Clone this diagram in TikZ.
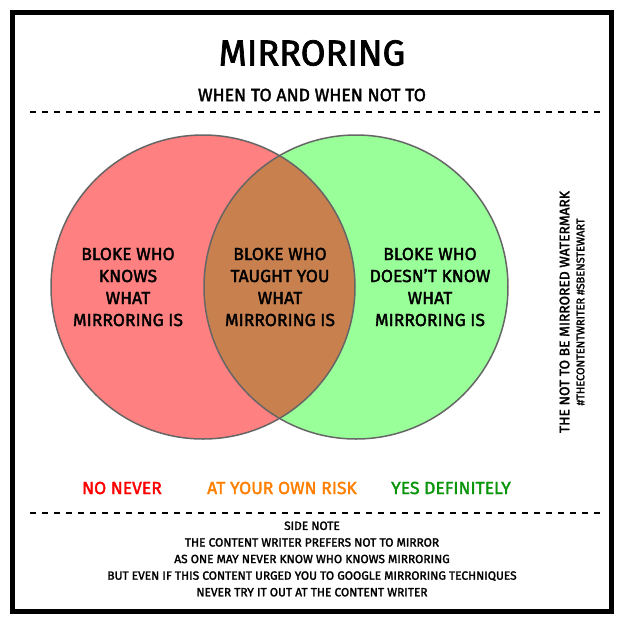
\documentclass[tikz,border=0pt]{standalone}
\usepackage{fontspec}
\setmainfont{Fira Sans}[FakeBold=2]
\begin{document}
\begin{tikzpicture}[x=1pt,y=-1pt,
  txt/.style={align=center,font=\fontsize{17.5}{22}\selectfont,inner sep=0pt},
  note/.style={align=center,font=\fontsize{11.9}{16.6}\selectfont,inner sep=0pt},
  verdict/.style={font=\fontsize{17.5}{19}\selectfont,inner sep=0pt},
  sep/.style={line width=1.3pt,dash pattern=on 6pt off 6pt}]
\useasboundingbox (0,0) rectangle (625,625);
\fill[white] (0,0) rectangle (625,625);
% frame
\draw[line width=5pt] (12.5,12.5) rectangle (611.5,611.5);
% heading
\node[inner sep=0pt,font=\fontsize{36}{40}\selectfont] (title) at (312,53) {MIRRORING};
\node[inner sep=0pt,font=\fontsize{17.7}{20}\selectfont] (sub) at (312,95) {WHEN TO AND WHEN NOT TO};
\draw[sep] (30,112) -- (600,112);
% venn circles
\coordinate (L) at (203,287);
\coordinate (R) at (356,287);
\fill[red!50] (L) circle (152);
\fill[green!40] (R) circle (152);
\begin{scope}
  \clip (L) circle (152);
  \fill[fill={rgb,255:red,200;green,128;blue,79}] (R) circle (152);
\end{scope}
\draw[line width=1.5pt,black!60] (L) circle (152);
\draw[line width=1.5pt,black!60] (R) circle (152);
\node[txt] (left) at (128,287) {BLOKE WHO\\KNOWS\\WHAT\\MIRRORING IS};
\node[txt] (mid) at (280,287) {BLOKE WHO\\TAUGHT YOU\\WHAT\\MIRRORING IS};
\node[txt] (right) at (430,287) {BLOKE WHO\\DOESN'T KNOW\\WHAT\\MIRRORING IS};
% watermark
\node[inner sep=0pt,rotate=90,align=center,font=\fontsize{13.8}{15}\selectfont] (mark) at (572,312)
  {THE NOT TO BE MIRRORED WATERMARK\\{\fontsize{11}{12}\selectfont \#THECONTENTWRITER \#SBENSTEWART}};
% verdicts
\node[verdict,text={rgb,255:red,255;green,0;blue,0}] (no) at (122,488) {NO NEVER};
\node[verdict,text={rgb,255:red,255;green,128;blue,0}] (risk) at (282,488) {AT YOUR OWN RISK};
\node[verdict,text={rgb,255:red,10;green,150;blue,10}] (yes) at (451,488) {YES DEFINITELY};
\draw[sep] (30,513) -- (600,513);
% side note
\node[note] (side) at (312,559) {SIDE NOTE\\THE CONTENT WRITER PREFERS NOT TO MIRROR\\AS ONE MAY NEVER KNOW WHO KNOWS MIRRORING\\BUT EVEN IF THIS CONTENT URGED YOU TO GOOGLE MIRRORING TECHNIQUES\\NEVER TRY IT OUT AT THE CONTENT WRITER};
\end{tikzpicture}
\end{document}
